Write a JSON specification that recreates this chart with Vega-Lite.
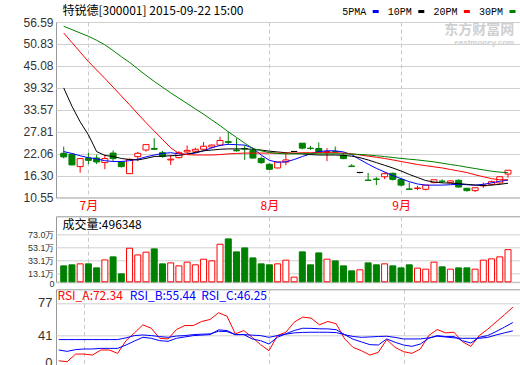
{
"$schema": "https://vega.github.io/schema/vega-lite/v6.json",
"background": "white",
"padding": {"left": 22, "top": 4, "right": 0, "bottom": 0},
"autosize": {"type": "pad"},
"datasets": {"k": [
{"i":0,"o":22.15,"h":23.9,"l":20.8,"c":21.2,"d":"down","v":24.6,"5PMA":22.6,"10PM":39.3,"20PM":53.7,"30PM":55.46,"RSI_A":13.2,"RSI_B":25.1,"RSI_C":36.6},
{"i":1,"o":21.9,"h":22.0,"l":19.0,"c":19.1,"d":"down","v":26.2,"5PMA":22.1,"10PM":34.5,"20PM":51.2,"30PM":54.6,"RSI_A":12.1,"RSI_B":23.6,"RSI_C":36.6},
{"i":2,"o":18.65,"h":20.75,"l":17.07,"c":20.75,"d":"up","v":27.7,"5PMA":21.5,"10PM":30.4,"20PM":48.7,"30PM":53.7,"RSI_A":20.6,"RSI_B":25.5,"RSI_C":36.6},
{"i":3,"o":20.9,"h":22.3,"l":19.3,"c":20.3,"d":"down","v":27.7,"5PMA":21.0,"10PM":27.0,"20PM":46.2,"30PM":52.84,"RSI_A":20.6,"RSI_B":26.2,"RSI_C":36.6},
{"i":4,"o":20.9,"h":21.8,"l":19.3,"c":19.87,"d":"down","v":21.5,"5PMA":20.7,"10PM":22.6,"20PM":44.0,"30PM":51.8,"RSI_A":19.5,"RSI_B":26.2,"RSI_C":36.6},
{"i":5,"o":19.7,"h":21.8,"l":17.95,"c":20.75,"d":"up","v":33.8,"5PMA":20.2,"10PM":21.6,"20PM":41.8,"30PM":50.6,"RSI_A":25.1,"RSI_B":26.9,"RSI_C":36.6},
{"i":6,"o":22.2,"h":22.9,"l":19.96,"c":20.75,"d":"down","v":38.5,"5PMA":20.0,"10PM":21.3,"20PM":39.5,"30PM":49.1,"RSI_A":25.1,"RSI_B":26.9,"RSI_C":36.6},
{"i":7,"o":19.87,"h":20.1,"l":18.4,"c":18.65,"d":"down","v":12.3,"5PMA":20.0,"10PM":20.8,"20PM":37.2,"30PM":47.5,"RSI_A":21.4,"RSI_B":26.9,"RSI_C":36.6},
{"i":8,"o":16.81,"h":20.8,"l":16.81,"c":20.57,"d":"up","v":51.8,"5PMA":20.2,"10PM":20.5,"20PM":34.9,"30PM":46.0,"RSI_A":35.4,"RSI_B":30.6,"RSI_C":38.5},
{"i":9,"o":21.27,"h":22.5,"l":20.1,"c":22.15,"d":"up","v":41.5,"5PMA":20.6,"10PM":20.4,"20PM":32.5,"30PM":44.3,"RSI_A":44.0,"RSI_B":35.0,"RSI_C":41.0},
{"i":10,"o":23.02,"h":24.42,"l":22.6,"c":24.42,"d":"up","v":45.7,"5PMA":21.2,"10PM":20.8,"20PM":30.2,"30PM":42.6,"RSI_A":52.9,"RSI_B":39.1,"RSI_C":41.7},
{"i":11,"o":23.4,"h":26.1,"l":23.0,"c":23.2,"d":"down","v":50.8,"5PMA":21.7,"10PM":21.3,"20PM":28.0,"30PM":41.0,"RSI_A":49.1,"RSI_B":38.0,"RSI_C":41.0},
{"i":12,"o":22.3,"h":22.8,"l":21.0,"c":21.3,"d":"down","v":27.7,"5PMA":22.1,"10PM":21.4,"20PM":25.8,"30PM":39.5,"RSI_A":38.0,"RSI_B":35.4,"RSI_C":39.9},
{"i":13,"o":20.4,"h":21.6,"l":19.1,"c":20.6,"d":"up","v":29.2,"5PMA":22.3,"10PM":21.5,"20PM":23.6,"30PM":38.0,"RSI_A":37.3,"RSI_B":34.7,"RSI_C":39.1},
{"i":14,"o":21.0,"h":22.7,"l":20.8,"c":22.3,"d":"up","v":24.6,"5PMA":22.0,"10PM":21.6,"20PM":22.1,"30PM":36.6,"RSI_A":47.7,"RSI_B":38.0,"RSI_C":40.5},
{"i":15,"o":22.5,"h":24.2,"l":21.9,"c":22.9,"d":"up","v":30.3,"5PMA":21.9,"10PM":21.9,"20PM":21.8,"30PM":35.2,"RSI_A":52.1,"RSI_B":39.5,"RSI_C":41.0},
{"i":16,"o":22.7,"h":23.6,"l":22.3,"c":23.2,"d":"up","v":26.2,"5PMA":22.2,"10PM":22.4,"20PM":21.7,"30PM":33.8,"RSI_A":52.1,"RSI_B":41.0,"RSI_C":42.1},
{"i":17,"o":23.2,"h":25.1,"l":22.9,"c":24.0,"d":"up","v":34.9,"5PMA":22.8,"10PM":22.8,"20PM":21.7,"30PM":32.4,"RSI_A":56.6,"RSI_B":41.5,"RSI_C":42.5},
{"i":18,"o":23.8,"h":24.5,"l":23.4,"c":24.3,"d":"up","v":32.3,"5PMA":23.6,"10PM":23.0,"20PM":21.7,"30PM":30.9,"RSI_A":58.8,"RSI_B":42.1,"RSI_C":42.9},
{"i":19,"o":24.3,"h":26.5,"l":24.0,"c":25.5,"d":"up","v":58.0,"5PMA":24.2,"10PM":23.2,"20PM":21.8,"30PM":29.4,"RSI_A":66.2,"RSI_B":47.3,"RSI_C":45.8},
{"i":20,"o":25.2,"h":27.8,"l":24.3,"c":25.0,"d":"down","v":66.2,"5PMA":24.5,"10PM":23.3,"20PM":22.0,"30PM":27.8,"RSI_A":62.5,"RSI_B":46.6,"RSI_C":45.4},
{"i":21,"o":23.0,"h":26.1,"l":22.6,"c":22.8,"d":"down","v":46.2,"5PMA":24.4,"10PM":23.3,"20PM":22.1,"30PM":26.3,"RSI_A":42.9,"RSI_B":42.1,"RSI_C":42.1},
{"i":22,"o":23.4,"h":24.2,"l":20.4,"c":23.3,"d":"down","v":52.3,"5PMA":24.3,"10PM":23.3,"20PM":22.2,"30PM":24.8,"RSI_A":46.6,"RSI_B":42.1,"RSI_C":42.1},
{"i":23,"o":22.9,"h":23.6,"l":20.75,"c":20.9,"d":"down","v":36.9,"5PMA":23.5,"10PM":23.2,"20PM":22.2,"30PM":23.4,"RSI_A":39.1,"RSI_B":37.3,"RSI_C":41.5},
{"i":24,"o":20.8,"h":21.3,"l":19.35,"c":19.7,"d":"down","v":27.7,"5PMA":21.7,"10PM":23.0,"20PM":22.2,"30PM":22.8,"RSI_A":31.0,"RSI_B":35.4,"RSI_C":41.0},
{"i":25,"o":19.26,"h":19.5,"l":17.8,"c":17.95,"d":"down","v":26.2,"5PMA":20.3,"10PM":22.7,"20PM":22.2,"30PM":22.35,"RSI_A":24.3,"RSI_B":31.7,"RSI_C":39.1},
{"i":26,"o":18.3,"h":19.9,"l":18.2,"c":19.87,"d":"up","v":27.7,"5PMA":19.8,"10PM":22.5,"20PM":22.2,"30PM":22.1,"RSI_A":41.0,"RSI_B":39.1,"RSI_C":41.0},
{"i":27,"o":19.87,"h":22.3,"l":19.0,"c":20.4,"d":"up","v":33.4,"5PMA":19.9,"10PM":22.3,"20PM":22.2,"30PM":22.0,"RSI_A":44.7,"RSI_B":43.0,"RSI_C":42.5},
{"i":28,"o":22.6,"h":22.7,"l":22.5,"c":22.63,"d":"flat","v":7.2,"5PMA":20.5,"10PM":22.1,"20PM":22.2,"30PM":22.0,"RSI_A":55.8,"RSI_B":46.6,"RSI_C":44.0},
{"i":29,"o":24.8,"h":24.8,"l":23.2,"c":23.5,"d":"down","v":46.2,"5PMA":21.3,"10PM":22.0,"20PM":22.3,"30PM":22.06,"RSI_A":61.4,"RSI_B":49.1,"RSI_C":44.5},
{"i":30,"o":23.5,"h":24.1,"l":23.1,"c":23.4,"d":"down","v":26.2,"5PMA":22.0,"10PM":21.8,"20PM":22.3,"30PM":22.06,"RSI_A":60.3,"RSI_B":49.0,"RSI_C":44.7},
{"i":31,"o":23.4,"h":25.0,"l":22.2,"c":22.4,"d":"down","v":44.6,"5PMA":22.6,"10PM":21.7,"20PM":22.3,"30PM":22.0,"RSI_A":52.9,"RSI_B":48.5,"RSI_C":44.7},
{"i":32,"o":22.4,"h":23.5,"l":20.1,"c":22.6,"d":"up","v":34.9,"5PMA":22.8,"10PM":21.7,"20PM":22.3,"30PM":22.0,"RSI_A":56.6,"RSI_B":48.4,"RSI_C":44.7},
{"i":33,"o":22.6,"h":23.9,"l":22.2,"c":22.5,"d":"down","v":32.3,"5PMA":22.8,"10PM":21.7,"20PM":22.3,"30PM":22.0,"RSI_A":54.0,"RSI_B":47.5,"RSI_C":44.3},
{"i":34,"o":21.6,"h":22.3,"l":20.6,"c":20.75,"d":"down","v":24.6,"5PMA":22.5,"10PM":21.6,"20PM":22.2,"30PM":22.0,"RSI_A":37.3,"RSI_B":42.0,"RSI_C":42.0},
{"i":35,"o":18.8,"h":19.3,"l":18.6,"c":18.7,"d":"down","v":16.9,"5PMA":21.8,"10PM":21.4,"20PM":22.0,"30PM":21.95,"RSI_A":28.0,"RSI_B":37.0,"RSI_C":40.0},
{"i":36,"o":17.1,"h":17.2,"l":16.9,"c":17.13,"d":"flat","v":18.5,"5PMA":20.5,"10PM":21.0,"20PM":21.7,"30PM":21.85,"RSI_A":24.3,"RSI_B":34.0,"RSI_C":39.1},
{"i":37,"o":15.1,"h":17.0,"l":15.0,"c":15.05,"d":"down","v":29.2,"5PMA":19.3,"10PM":20.4,"20PM":21.4,"30PM":21.7,"RSI_A":19.5,"RSI_B":31.0,"RSI_C":39.5},
{"i":38,"o":15.4,"h":15.9,"l":13.8,"c":15.3,"d":"down","v":26.2,"5PMA":18.2,"10PM":19.7,"20PM":21.1,"30PM":21.5,"RSI_A":22.5,"RSI_B":30.6,"RSI_C":40.0},
{"i":39,"o":16.0,"h":17.1,"l":15.4,"c":16.8,"d":"up","v":27.7,"5PMA":17.25,"10PM":19.0,"20PM":20.8,"30PM":21.3,"RSI_A":36.6,"RSI_B":37.3,"RSI_C":40.3},
{"i":40,"o":16.9,"h":17.1,"l":15.0,"c":15.3,"d":"down","v":24.6,"5PMA":16.3,"10PM":18.3,"20PM":20.4,"30PM":21.05,"RSI_A":28.0,"RSI_B":33.6,"RSI_C":39.0},
{"i":41,"o":15.3,"h":15.6,"l":13.5,"c":13.8,"d":"down","v":21.5,"5PMA":15.5,"10PM":17.5,"20PM":20.0,"30PM":20.8,"RSI_A":23.2,"RSI_B":30.6,"RSI_C":37.3},
{"i":42,"o":12.8,"h":14.45,"l":12.7,"c":12.7,"d":"down","v":26.2,"5PMA":14.7,"10PM":16.6,"20PM":19.6,"30PM":20.6,"RSI_A":21.4,"RSI_B":29.1,"RSI_C":37.3},
{"i":43,"o":12.9,"h":13.6,"l":12.5,"c":13.05,"d":"up","v":21.1,"5PMA":14.1,"10PM":15.8,"20PM":19.2,"30PM":20.4,"RSI_A":26.2,"RSI_B":31.7,"RSI_C":37.3},
{"i":44,"o":12.7,"h":13.8,"l":12.4,"c":13.8,"d":"up","v":19.5,"5PMA":13.8,"10PM":15.0,"20PM":18.9,"30PM":20.15,"RSI_A":41.0,"RSI_B":38.0,"RSI_C":38.5},
{"i":45,"o":14.45,"h":15.2,"l":14.3,"c":15.2,"d":"up","v":30.3,"5PMA":13.8,"10PM":14.6,"20PM":18.6,"30PM":19.9,"RSI_A":47.7,"RSI_B":41.0,"RSI_C":40.3},
{"i":46,"o":14.85,"h":15.3,"l":14.3,"c":14.8,"d":"down","v":23.1,"5PMA":13.8,"10PM":14.4,"20PM":18.3,"30PM":19.55,"RSI_A":44.0,"RSI_B":39.9,"RSI_C":39.5},
{"i":47,"o":14.45,"h":15.0,"l":14.4,"c":14.9,"d":"up","v":19.5,"5PMA":13.9,"10PM":14.3,"20PM":17.9,"30PM":19.2,"RSI_A":44.7,"RSI_B":39.9,"RSI_C":38.5},
{"i":48,"o":15.06,"h":15.3,"l":13.1,"c":13.3,"d":"down","v":21.5,"5PMA":14.0,"10PM":14.2,"20PM":17.5,"30PM":18.9,"RSI_A":34.3,"RSI_B":35.4,"RSI_C":38.0},
{"i":49,"o":12.96,"h":13.1,"l":12.1,"c":12.35,"d":"down","v":21.5,"5PMA":13.9,"10PM":14.0,"20PM":17.1,"30PM":18.5,"RSI_A":29.1,"RSI_B":32.8,"RSI_C":38.0},
{"i":50,"o":12.35,"h":13.1,"l":12.0,"c":13.1,"d":"up","v":19.5,"5PMA":13.8,"10PM":13.8,"20PM":16.5,"30PM":18.15,"RSI_A":41.0,"RSI_B":39.1,"RSI_C":38.0},
{"i":51,"o":13.6,"h":14.5,"l":13.05,"c":13.8,"d":"up","v":33.4,"5PMA":14.0,"10PM":13.7,"20PM":16.0,"30PM":17.8,"RSI_A":48.0,"RSI_B":41.0,"RSI_C":39.0},
{"i":52,"o":14.0,"h":15.0,"l":13.6,"c":14.7,"d":"up","v":35.4,"5PMA":14.4,"10PM":13.8,"20PM":15.5,"30PM":17.45,"RSI_A":56.0,"RSI_B":45.4,"RSI_C":41.7},
{"i":53,"o":14.36,"h":16.0,"l":14.0,"c":16.0,"d":"up","v":38.5,"5PMA":14.8,"10PM":14.0,"20PM":15.2,"30PM":17.2,"RSI_A":64.0,"RSI_B":50.3,"RSI_C":44.0},
{"i":54,"o":16.7,"h":17.7,"l":15.76,"c":17.7,"d":"up","v":49.63,"5PMA":15.1,"10PM":14.3,"20PM":15.2,"30PM":17.07,"RSI_A":72.34,"RSI_B":55.44,"RSI_C":46.25}
]},
"spacing": 18.3,
"bounds": "flush",
"resolve": {"scale": {"color": "independent", "fill": "independent", "stroke": "independent"}},
"vconcat": [
{
 "width": 464, "height": 175.5,
 "data": {"name": "k"},
 "layer": [
  {"mark": {"type": "rule", "strokeWidth": 1},
   "encoding": {
    "x": {"field": "i", "type": "quantitative", "scale": {"domain": [-0.33, 54.85], "nice": false, "zero": false},
          "axis": {"values": [3, 25, 41], "tickCount": 20, "labelExpr": "datum.value == 3 ? '7月' : (datum.value == 25 ? '8月' : '9月')", "labelColor": "#ff0000", "labelFont": "Noto Sans CJK SC", "labelFontSize": 12, "labelPadding": 3, "labelAngle": 0, "ticks": false, "domain": false, "grid": true, "gridDash": [4, 3], "gridColor": "#c8c8c8", "title": null}},
    "y": {"field": "l", "type": "quantitative", "scale": {"domain": [10.55, 56.59], "nice": false, "zero": false},
          "axis": {"values": [10.55, 16.30, 22.06, 27.81, 33.57, 39.32, 45.08, 50.83, 56.59], "tickCount": 20, "format": ".2f", "labelOverlap": false, "labelFont": "Liberation Sans", "labelFontSize": 12, "labelColor": "#333333", "labelPadding": 3, "ticks": false, "domain": false, "grid": true, "gridColor": "#d0d0d0", "title": null}},
    "y2": {"field": "h"},
    "stroke": {"field": "d", "type": "nominal", "scale": {"domain": ["up", "down", "flat"], "range": ["#ff0000", "#008000", "#000000"]}, "legend": null}
   }},
  {"mark": {"type": "bar", "width": 6, "strokeWidth": 1},
   "encoding": {
    "x": {"field": "i", "type": "quantitative"},
    "y": {"field": "o", "type": "quantitative"},
    "y2": {"field": "c"},
    "fill": {"field": "d", "type": "nominal", "scale": {"domain": ["up", "down", "flat"], "range": ["#ffffff", "#008000", "#000000"]}, "legend": null},
    "stroke": {"field": "d", "type": "nominal", "legend": null}
   }},
  {"transform": [{"fold": ["5PMA", "10PM", "20PM", "30PM"], "as": ["ma", "val"]}],
   "mark": {"type": "line", "strokeWidth": 1},
   "encoding": {
    "x": {"field": "i", "type": "quantitative"},
    "y": {"field": "val", "type": "quantitative"},
    "color": {"field": "ma", "type": "nominal", "scale": {"domain": ["5PMA", "10PM", "20PM", "30PM"], "range": ["#0000ff", "#000000", "#ff0000", "#008000"]},
      "legend": {"orient": "none", "legendX": 314.7, "legendY": -15.5, "direction": "horizontal", "title": null, "padding": 0, "labelFont": "Liberation Mono", "labelFontSize": 10, "labelColor": "#000000", "labelAlign": "right", "labelOffset": -14.5, "symbolOffset": 0, "symbolType": "stroke", "symbolSize": 36, "symbolStrokeWidth": 3, "columnPadding": 2.6}}
   }},
  {"data": {"values": [{}]},
   "mark": {"type": "text", "align": "left", "baseline": "middle", "font": "Noto Sans CJK SC", "fontSize": 12, "color": "#000000", "clip": false},
   "encoding": {"x": {"datum": -0.15, "type": "quantitative"}, "y": {"datum": 59.4, "type": "quantitative"}, "text": {"value": "特锐德[300001] 2015-09-22 15:00"}}},
  {"data": {"values": [{}]},
   "mark": {"type": "text", "align": "right", "baseline": "middle", "font": "Noto Sans CJK SC", "fontSize": 14, "fontWeight": "bold", "color": "#cfcfcf"},
   "encoding": {"x": {"datum": 54.75, "type": "quantitative"}, "y": {"datum": 54.4, "type": "quantitative"}, "text": {"value": "东方财富网"}}},
  {"data": {"values": [{}]},
   "mark": {"type": "text", "align": "right", "baseline": "middle", "font": "Liberation Sans", "fontSize": 8, "fontWeight": "bold", "color": "#cfcfcf"},
   "encoding": {"x": {"datum": 54.75, "type": "quantitative"}, "y": {"datum": 51.2, "type": "quantitative"}, "text": {"value": "eastmoney.com"}}}
 ]
},
{
 "spacing": 7,
 "bounds": "flush",
 "resolve": {"scale": {"color": "independent", "fill": "independent", "stroke": "independent"}},
 "vconcat": [
  {
   "width": 464, "height": 65.5,
   "data": {"name": "k"},
   "layer": [
    {"mark": {"type": "bar", "width": 6, "strokeWidth": 1},
     "encoding": {
      "x": {"field": "i", "type": "quantitative", "scale": {"domain": [-0.33, 54.85], "nice": false, "zero": false},
            "axis": {"values": [3, 25, 41], "tickCount": 20, "labels": false, "ticks": false, "domain": false, "grid": true, "gridDash": [4, 3], "gridColor": "#c8c8c8", "title": null}},
      "y": {"field": "v", "type": "quantitative", "scale": {"domain": [0, 101.1], "nice": false},
            "axis": {"values": [0, 13.1, 33.1, 53.1, 73.0], "tickCount": 20, "labelExpr": "datum.value == 0 ? '0' : format(datum.value, '.1f') + '万'", "labelOverlap": false, "labelOffset": {"condition": {"test": "datum.value == 0", "value": 2}, "value": 0}, "labelFont": "Liberation Sans Narrow, Liberation Sans", "labelFontSize": 9, "labelColor": "#333333", "labelPadding": 2, "ticks": false, "domain": false, "grid": true, "gridColor": "#d0d0d0", "title": null}},
      "fill": {"field": "d", "type": "nominal", "scale": {"domain": ["up", "down", "flat"], "range": ["#ffffff", "#008000", "#ffffff"]}, "legend": null},
      "stroke": {"field": "d", "type": "nominal", "scale": {"domain": ["up", "down", "flat"], "range": ["#ff0000", "#008000", "#ff0000"]}, "legend": null}
     }},
    {"data": {"values": [{}]},
     "mark": {"type": "text", "align": "left", "baseline": "middle", "font": "Noto Sans CJK SC", "fontSize": 12, "color": "#000000"},
     "encoding": {"x": {"datum": -0.15, "type": "quantitative"}, "y": {"datum": 88, "type": "quantitative"}, "text": {"value": "成交量:496348"}}}
   ]
  },
  {
   "width": 464, "height": 78,
   "data": {"name": "k"},
   "layer": [
    {"transform": [{"fold": ["RSI_A", "RSI_B", "RSI_C"], "as": ["s", "r"]}],
     "mark": {"type": "line", "strokeWidth": 1},
     "encoding": {
      "x": {"field": "i", "type": "quantitative", "scale": {"domain": [-0.33, 54.85], "nice": false, "zero": false},
            "axis": {"values": [3, 25, 41], "tickCount": 20, "labels": false, "ticks": false, "domain": false, "grid": true, "gridDash": [4, 3], "gridColor": "#c8c8c8", "title": null}},
      "y": {"field": "r", "type": "quantitative", "scale": {"domain": [6, 92.1], "nice": false, "zero": false},
            "axis": {"values": [6, 41, 77], "tickCount": 20, "labelExpr": "datum.value == 6 ? '0' : format(datum.value, 'd')", "labelOverlap": false, "labelOffset": {"condition": {"test": "datum.value == 6", "value": -5}, "value": 0}, "labelFont": "Liberation Sans", "labelFontSize": 13, "labelColor": "#333333", "labelPadding": 4, "ticks": false, "domain": false, "grid": true, "gridColor": "#d0d0d0", "title": null}},
      "color": {"field": "s", "type": "nominal", "scale": {"domain": ["RSI_A", "RSI_B", "RSI_C"], "range": ["#ff0000", "#0000ff", "#0000ff"]}, "legend": null}
     }},
    {"data": {"values": [{}]},
     "mark": {"type": "text", "align": "left", "baseline": "middle", "font": "Noto Sans CJK SC", "fontSize": 12, "color": "#ff0000"},
     "encoding": {"x": {"datum": -0.15, "type": "quantitative"}, "y": {"datum": 84.4, "type": "quantitative"}, "text": {"value": "RSI_A:72.34"}}},
    {"data": {"values": [{}]},
     "mark": {"type": "text", "align": "left", "baseline": "middle", "font": "Noto Sans CJK SC", "fontSize": 12, "color": "#0000ff"},
     "encoding": {"x": {"datum": 8.45, "type": "quantitative"}, "y": {"datum": 84.4, "type": "quantitative"}, "text": {"value": "RSI_B:55.44"}}},
    {"data": {"values": [{}]},
     "mark": {"type": "text", "align": "left", "baseline": "middle", "font": "Noto Sans CJK SC", "fontSize": 12, "color": "#0000ff"},
     "encoding": {"x": {"datum": 16.94, "type": "quantitative"}, "y": {"datum": 84.4, "type": "quantitative"}, "text": {"value": "RSI_C:46.25"}}}
   ]
  }
 ]
}
],
"config": {
 "view": {"stroke": "#999999", "strokeWidth": 1},
 "axis": {"labelFont": "Liberation Sans", "labelOverlap": false}
}
}
